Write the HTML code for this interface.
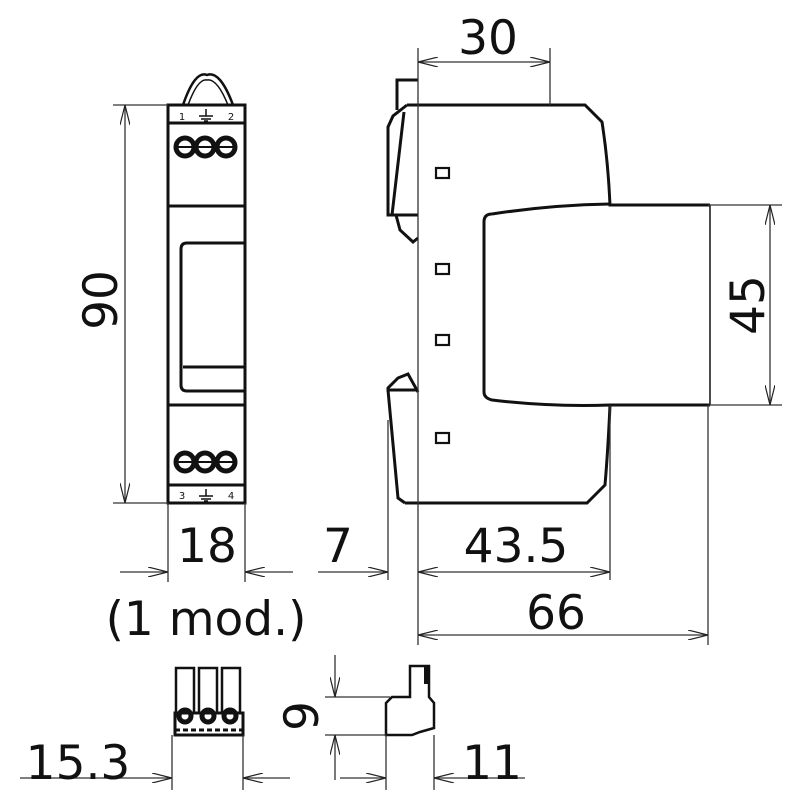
<!DOCTYPE html>
<html><head><meta charset="utf-8"><style>
html,body{margin:0;padding:0;background:#fff;}
svg{display:block}
text{font-family:"DejaVu Sans","Liberation Sans",sans-serif;fill:#111;}
</style></head><body>
<svg width="800" height="800" viewBox="0 0 800 800">
<defs>
<marker id="a" viewBox="0 0 20 10" refX="20" refY="5" markerWidth="20" markerHeight="10" markerUnits="userSpaceOnUse" orient="auto-start-reverse">
<path d="M0,0 L20,5 L0,10" fill="none" stroke="#222" stroke-width="1.2"/>
</marker>
</defs>
<g fill="none" stroke="#111" stroke-width="3">
<rect x="168" y="105" width="77" height="398"/>
<line x1="168" y1="123" x2="245" y2="123"/>
<line x1="168" y1="206" x2="245" y2="206"/>
<line x1="168" y1="405" x2="245" y2="405"/>
<line x1="168" y1="485" x2="245" y2="485"/>
<path d="M181,385 L181,249 Q181,243 187,243 L245,243"/>
<path d="M181,385 Q181,391 187,391 L245,391"/>
<line x1="183" y1="367" x2="245" y2="367"/>
<path d="M183,105 Q195,70 207,75 Q220,70 233,105" stroke-width="2.5"/>
<path d="M188,105 Q198,78 207,80 Q217,78 228,105" stroke-width="1.5"/>
<g stroke-width="5">
<circle cx="185" cy="147" r="9"/><circle cx="205" cy="147" r="9"/><circle cx="226" cy="147" r="9"/>
<circle cx="185" cy="462" r="9"/><circle cx="205" cy="462" r="9"/><circle cx="226" cy="462" r="9"/>
</g>
<g stroke-width="2">
<line x1="176" y1="147" x2="235" y2="147"/><line x1="176" y1="462" x2="235" y2="462"/>
</g>
<path d="M407,105 L585,105 L602,122 Q608,160 610,205 L710,205"/>
<path d="M710,405 L610,405 Q608,450 605,485 L587,503 L405,503"/>
<path d="M710,205 L710,405" stroke-width="1.5"/>
<path d="M492,214 Q550,205 610,204 M484,222 Q484,214 492,214 M484,222 L484,392 Q484,398 492,400 Q550,407 610,405"/>
<path d="M418,80 L397,80 L397,110 M407,105 L393,116 L388,127 L388,215 L418,215 M404,112 L392,215 M396,215 L400,230 L413,242 L418,238"/>
<path d="M418,392 L408,374 L398,378 L388,388 L388,390 L418,390 M388,390 L398,498 L405,503"/>
<g stroke-width="2.2">
<rect x="436" y="168" width="13" height="10"/>
<rect x="436" y="264" width="13" height="10"/>
<rect x="436" y="335" width="13" height="10"/>
<rect x="436" y="433" width="13" height="10"/>
</g>
<rect x="175" y="713" width="68" height="22"/>
<rect x="176" y="668" width="18" height="45" stroke-width="2.5"/>
<rect x="199" y="668" width="18" height="45" stroke-width="2.5"/>
<rect x="222" y="668" width="18" height="45" stroke-width="2.5"/>
<g stroke-width="5"><circle cx="185" cy="716" r="6"/><circle cx="208" cy="716" r="6"/><circle cx="230" cy="716" r="6"/></g>
<line x1="175" y1="730" x2="243" y2="730" stroke-dasharray="5,3"/>
<path d="M386,735 L386,703 L392,697 L410,697 L410,666 L429,666 L429,697 L434,703 L434,728 L420,732 L412,735 Z" stroke-width="2.5"/>
<rect x="424" y="666" width="5" height="18" fill="#111" stroke="none"/>
</g>
<g fill="none" stroke="#333" stroke-width="1.3">
<line x1="113" y1="105" x2="168" y2="105"/><line x1="113" y1="503" x2="168" y2="503"/>
<line x1="125" y1="105" x2="125" y2="503" marker-start="url(#a)" marker-end="url(#a)"/>
<line x1="168" y1="503" x2="168" y2="582"/><line x1="245" y1="503" x2="245" y2="582"/>
<line x1="120" y1="572" x2="168" y2="572" marker-end="url(#a)"/>
<line x1="293" y1="572" x2="245" y2="572" marker-end="url(#a)"/>
<line x1="418" y1="48" x2="418" y2="580"/><line x1="550" y1="48" x2="550" y2="105"/>
<line x1="418" y1="62" x2="550" y2="62" marker-start="url(#a)" marker-end="url(#a)"/>
<line x1="708" y1="205" x2="782" y2="205"/><line x1="708" y1="405" x2="782" y2="405"/>
<line x1="770" y1="205" x2="770" y2="405" marker-start="url(#a)" marker-end="url(#a)"/>
<line x1="388" y1="420" x2="388" y2="580"/><line x1="610" y1="405" x2="610" y2="580"/><line x1="708" y1="405" x2="708" y2="645"/>
<line x1="318" y1="572" x2="388" y2="572" marker-end="url(#a)"/>
<line x1="418" y1="572" x2="610" y2="572" marker-start="url(#a)" marker-end="url(#a)"/>
<line x1="418" y1="580" x2="418" y2="645"/>
<line x1="418" y1="635" x2="708" y2="635" marker-start="url(#a)" marker-end="url(#a)"/>
<line x1="172" y1="735" x2="172" y2="790"/><line x1="243" y1="735" x2="243" y2="790"/>
<line x1="20" y1="778" x2="172" y2="778" marker-end="url(#a)"/>
<line x1="290" y1="778" x2="243" y2="778" marker-end="url(#a)"/>
<line x1="325" y1="697" x2="390" y2="697"/><line x1="325" y1="735" x2="386" y2="735"/>
<line x1="335" y1="655" x2="335" y2="697" marker-end="url(#a)"/>
<line x1="335" y1="780" x2="335" y2="735" marker-end="url(#a)"/>
<line x1="386" y1="735" x2="386" y2="790"/><line x1="434" y1="735" x2="434" y2="790"/>
<line x1="340" y1="778" x2="386" y2="778" marker-end="url(#a)"/>
<line x1="525" y1="778" x2="434" y2="778" marker-end="url(#a)"/>
</g>
<g font-size="10" text-anchor="middle">
<text x="182" y="120" font-family="Liberation Serif">1</text><text x="231" y="120" font-family="Liberation Serif">2</text>
<text x="182" y="499" font-family="Liberation Serif">3</text><text x="231" y="499" font-family="Liberation Serif">4</text>
</g>
<g stroke="#111" stroke-width="1.5" fill="none">
<path d="M206,109 V116 M199,116 H213 M201,119 H211 M204,121 H208"/>
<path d="M206,489 V496 M199,496 H213 M201,499 H211 M204,501 H208"/>
</g>
<g font-size="47" text-anchor="middle">
<text transform="translate(117,300) rotate(-90)">90</text>
<text x="207" y="562">18</text>
<text x="206" y="635">(1 mod.)</text>
<text x="488" y="54">30</text>
<text transform="translate(764,305) rotate(-90)">45</text>
<text x="338" y="562">7</text>
<text x="516" y="562">43.5</text>
<text x="556" y="629">66</text>
<text x="78" y="779">15.3</text>
<text transform="translate(318,716) rotate(-90)">9</text>
<text x="492" y="779">11</text>
</g>
</svg>
</body></html>
